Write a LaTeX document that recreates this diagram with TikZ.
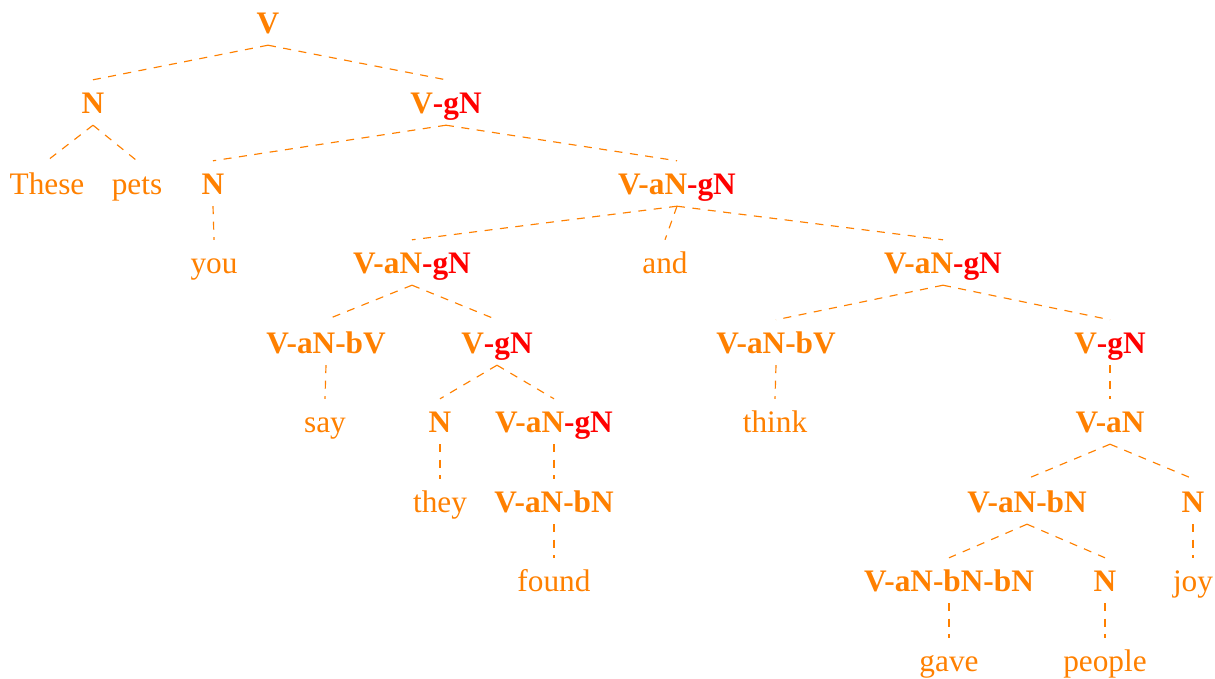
\documentclass[tikz,border=0pt]{standalone}
\usepackage{fontspec}
\setmainfont{Liberation Serif}
\definecolor{treeorange}{HTML}{FF8000}
\definecolor{treered}{HTML}{FF0000}
\newcommand{\cat}[1]{\textbf{#1}}
\newcommand{\gapN}{\textcolor{treered}{-gN}}
\begin{document}
\begin{tikzpicture}[x=1pt,y=-1pt,
  lbl/.style={anchor=base,text height=21pt,text depth=0pt,inner ysep=12pt,inner xsep=0pt,
    text=treeorange,font=\fontsize{31.3}{36}\selectfont},
  br/.style={draw=treeorange,line width=1.15pt,dash pattern=on 8pt off 7.5pt}]
\useasboundingbox (0,0) rectangle (1215,678);
% row 1
\node[lbl] (v0) at (268,33) {\cat{V}};
% row 2
\node[lbl] (n1) at (93,113) {\cat{N}};
\node[lbl] (vg1) at (446,113) {\cat{V\gapN}};
% row 3
\node[lbl] (these) at (47,194) {These};
\node[lbl] (pets) at (137,194) {pets};
\node[lbl] (n2) at (213,194) {\cat{N}};
\node[lbl] (vang1) at (677,194) {\cat{V-aN\gapN}};
% row 4
\node[lbl] (you) at (214,273) {you};
\node[lbl] (vang2) at (412,273) {\cat{V-aN\gapN}};
\node[lbl] (and) at (665,273) {and};
\node[lbl] (vang3) at (943,273) {\cat{V-aN\gapN}};
% row 5
\node[lbl] (vanbv1) at (326,353) {\cat{V-aN-bV}};
\node[lbl] (vg2) at (497,353) {\cat{V\gapN}};
\node[lbl] (vanbv2) at (776,353) {\cat{V-aN-bV}};
\node[lbl] (vg3) at (1110,353) {\cat{V\gapN}};
% row 6
\node[lbl] (say) at (325,432) {say};
\node[lbl] (n3) at (440,432) {\cat{N}};
\node[lbl] (vang4) at (554,432) {\cat{V-aN\gapN}};
\node[lbl] (think) at (775,432) {think};
\node[lbl] (van) at (1110,432) {\cat{V-aN}};
% row 7
\node[lbl] (they) at (440,512) {they};
\node[lbl] (vanbn1) at (554,512) {\cat{V-aN-bN}};
\node[lbl] (vanbn2) at (1027,512) {\cat{V-aN-bN}};
\node[lbl] (n4) at (1193,512) {\cat{N}};
% row 8
\node[lbl] (found) at (554,591) {found};
\node[lbl] (vanbnbn) at (949,591) {\cat{V-aN-bN-bN}};
\node[lbl] (n5) at (1105,591) {\cat{N}};
\node[lbl] (joy) at (1193,591) {joy};
% row 9
\node[lbl] (gave) at (949,671) {gave};
\node[lbl] (people) at (1105,671) {people};
% branches
\draw[br] (v0.south) -- (n1.north);
\draw[br] (v0.south) -- (vg1.north);
\draw[br] (n1.south) -- (these.north);
\draw[br] (n1.south) -- (pets.north);
\draw[br] (vg1.south) -- (n2.north);
\draw[br] (vg1.south) -- (vang1.north);
\draw[br] (n2.south) -- (you.north);
\draw[br] (vang1.south) -- (vang2.north);
\draw[br] (vang1.south) -- (and.north);
\draw[br] (vang1.south) -- (vang3.north);
\draw[br] (vang2.south) -- (vanbv1.north);
\draw[br] (vang2.south) -- (vg2.north);
\draw[br] (vanbv1.south) -- (say.north);
\draw[br] (vg2.south) -- (n3.north);
\draw[br] (vg2.south) -- (vang4.north);
\draw[br] (n3.south) -- (they.north);
\draw[br] (vang4.south) -- (vanbn1.north);
\draw[br] (vanbn1.south) -- (found.north);
\draw[br] (vang3.south) -- (vanbv2.north);
\draw[br] (vang3.south) -- (vg3.north);
\draw[br] (vanbv2.south) -- (think.north);
\draw[br] (vg3.south) -- (van.north);
\draw[br] (van.south) -- (vanbn2.north);
\draw[br] (van.south) -- (n4.north);
\draw[br] (vanbn2.south) -- (vanbnbn.north);
\draw[br] (vanbn2.south) -- (n5.north);
\draw[br] (vanbnbn.south) -- (gave.north);
\draw[br] (n5.south) -- (people.north);
\draw[br] (n4.south) -- (joy.north);
\end{tikzpicture}
\end{document}
